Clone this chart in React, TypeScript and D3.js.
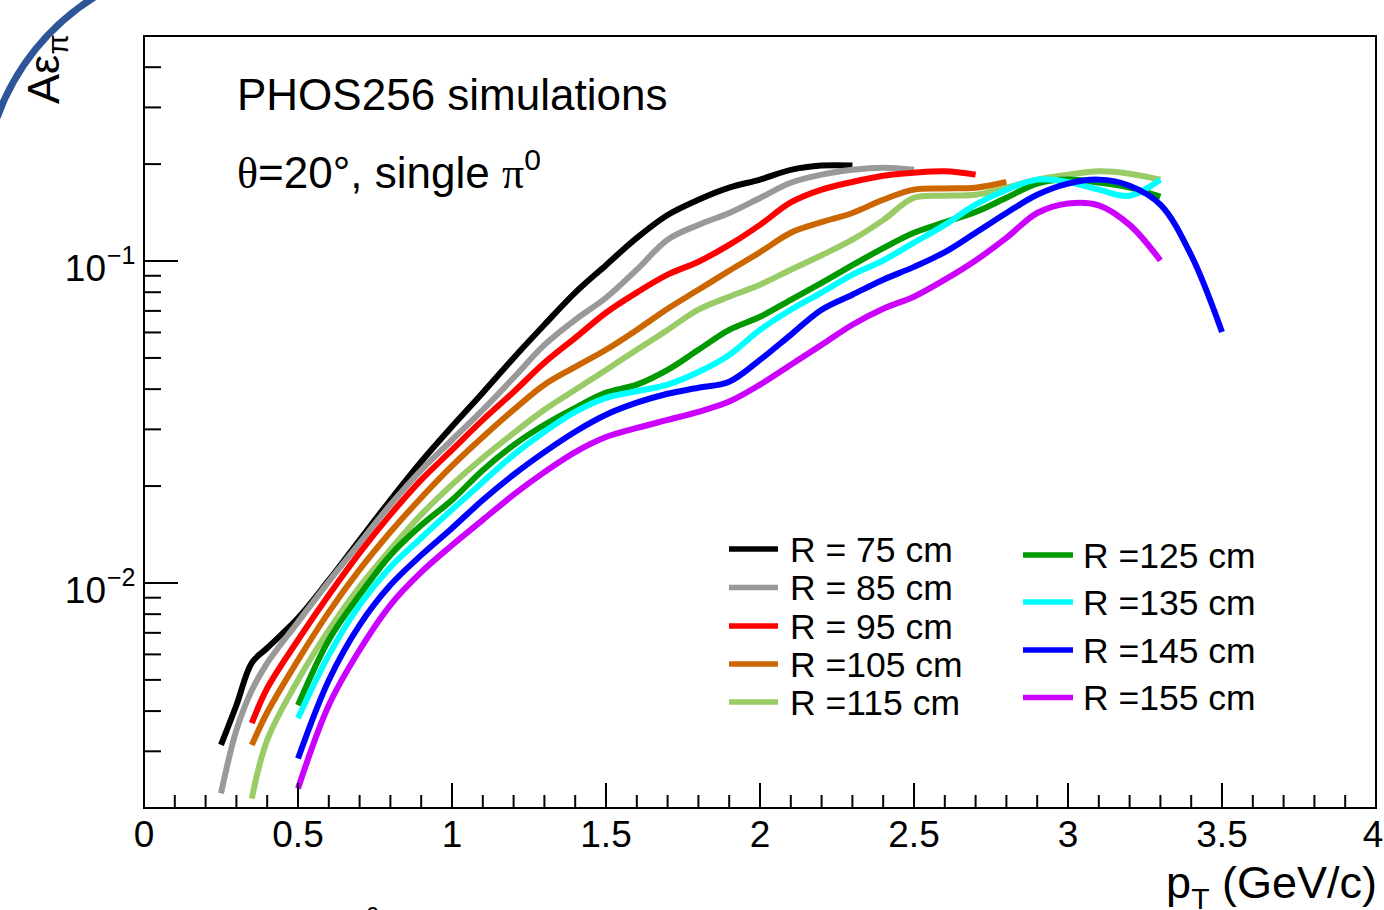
import React from "react";
import * as d3 from "d3";

const W = 1384;
const H = 910;

// ---- data (pT in GeV/c, acceptance x efficiency) ----
const xBlack = [0.25, 0.3, 0.35, 0.4, 0.5, 0.6, 0.7, 0.8, 0.9, 1.0, 1.1, 1.2, 1.3, 1.4, 1.5, 1.6, 1.7, 1.8, 1.9, 2.0, 2.1, 2.2, 2.3];
const yBlack = [0.00314, 0.00417, 0.00565, 0.00628, 0.00778, 0.0102, 0.0136, 0.0181, 0.0238, 0.0306, 0.039, 0.05, 0.0634, 0.0798, 0.0971, 0.118, 0.139, 0.155, 0.169, 0.179, 0.192, 0.198, 0.198];

const xGray = [0.25, 0.3, 0.35, 0.4, 0.5, 0.6, 0.7, 0.8, 0.9, 1.0, 1.1, 1.2, 1.3, 1.4, 1.5, 1.6, 1.7, 1.8, 1.9, 2.0, 2.1, 2.2, 2.3, 2.4, 2.5];
const yGray = [0.00222, 0.00349, 0.00464, 0.00564, 0.00756, 0.0101, 0.0133, 0.0175, 0.0224, 0.0278, 0.0345, 0.0434, 0.0549, 0.0657, 0.0769, 0.094, 0.1165, 0.1295, 0.141, 0.157, 0.175, 0.1855, 0.192, 0.195, 0.192];

const xRed = [0.35, 0.4, 0.5, 0.6, 0.7, 0.8, 0.9, 1.0, 1.1, 1.2, 1.3, 1.4, 1.5, 1.6, 1.7, 1.8, 1.9, 2.0, 2.1, 2.2, 2.3, 2.4, 2.5, 2.6, 2.7];
const yRed = [0.00367, 0.00471, 0.00665, 0.00917, 0.0124, 0.0163, 0.0209, 0.0259, 0.0321, 0.0392, 0.0483, 0.0577, 0.0691, 0.0798, 0.0907, 0.0995, 0.1122, 0.1295, 0.152, 0.1666, 0.176, 0.184, 0.188, 0.19, 0.1855];

const xOrange = [0.35, 0.4, 0.5, 0.6, 0.7, 0.8, 0.9, 1.0, 1.1, 1.2, 1.3, 1.4, 1.5, 1.6, 1.7, 1.8, 1.9, 2.0, 2.1, 2.2, 2.3, 2.4, 2.5, 2.6, 2.7, 2.8];
const yOrange = [0.00314, 0.00396, 0.00576, 0.00812, 0.011, 0.0144, 0.0184, 0.0231, 0.0284, 0.0345, 0.0413, 0.0469, 0.053, 0.0611, 0.0711, 0.0814, 0.0933, 0.1065, 0.1224, 0.132, 0.141, 0.155, 0.1666, 0.168, 0.169, 0.176];

const xLightGreen = [0.35, 0.4, 0.5, 0.6, 0.7, 0.8, 0.9, 1.0, 1.1, 1.2, 1.3, 1.4, 1.5, 1.6, 1.7, 1.8, 1.9, 2.0, 2.1, 2.2, 2.3, 2.4, 2.5, 2.6, 2.7, 2.8, 2.9, 3.0, 3.1, 3.2, 3.3];
const yLightGreen = [0.00214, 0.00325, 0.00499, 0.00714, 0.00972, 0.0127, 0.0163, 0.0202, 0.0245, 0.0292, 0.0345, 0.0398, 0.0459, 0.053, 0.0611, 0.0706, 0.0775, 0.0844, 0.094, 0.1042, 0.1165, 0.134, 0.1572, 0.1595, 0.1607, 0.169, 0.179, 0.1855, 0.19, 0.1868, 0.179];

const xGreen = [0.5, 0.6, 0.7, 0.8, 0.9, 1.0, 1.1, 1.2, 1.3, 1.4, 1.5, 1.6, 1.7, 1.8, 1.9, 2.0, 2.1, 2.2, 2.3, 2.4, 2.5, 2.6, 2.7, 2.8, 2.9, 3.0, 3.1, 3.2, 3.3];
const yGreen = [0.00417, 0.00665, 0.00917, 0.0122, 0.0151, 0.0181, 0.0224, 0.0268, 0.031, 0.035, 0.039, 0.0413, 0.0459, 0.053, 0.0611, 0.0671, 0.0758, 0.0856, 0.0971, 0.1097, 0.1224, 0.132, 0.142, 0.1572, 0.174, 0.179, 0.1752, 0.169, 0.1584];

const xCyan = [0.5, 0.6, 0.7, 0.8, 0.9, 1.0, 1.1, 1.2, 1.3, 1.4, 1.5, 1.6, 1.7, 1.8, 1.9, 2.0, 2.1, 2.2, 2.3, 2.4, 2.5, 2.6, 2.7, 2.8, 2.9, 3.0, 3.1, 3.2, 3.3];
const yCyan = [0.0038, 0.00597, 0.00854, 0.0112, 0.0138, 0.0169, 0.0206, 0.025, 0.0295, 0.034, 0.0376, 0.0394, 0.0413, 0.0452, 0.0511, 0.0611, 0.0706, 0.0798, 0.0907, 0.1004, 0.114, 0.1295, 0.1497, 0.1666, 0.179, 0.176, 0.1666, 0.1595, 0.179];

const xBlue = [0.5, 0.6, 0.7, 0.8, 0.9, 1.0, 1.1, 1.2, 1.3, 1.4, 1.5, 1.6, 1.7, 1.8, 1.9, 2.0, 2.1, 2.2, 2.3, 2.4, 2.5, 2.6, 2.7, 2.8, 2.9, 3.0, 3.1, 3.2, 3.3, 3.4, 3.5];
const yBlue = [0.00285, 0.00499, 0.0074, 0.00985, 0.0122, 0.0148, 0.0181, 0.0217, 0.0255, 0.0295, 0.0333, 0.0363, 0.0387, 0.0404, 0.0422, 0.0493, 0.059, 0.0706, 0.0786, 0.0875, 0.0959, 0.1065, 0.1224, 0.141, 0.1607, 0.174, 0.179, 0.1714, 0.1497, 0.1042, 0.0602];

const xMagenta = [0.5, 0.6, 0.7, 0.8, 0.9, 1.0, 1.1, 1.2, 1.3, 1.4, 1.5, 1.6, 1.7, 1.8, 1.9, 2.0, 2.1, 2.2, 2.3, 2.4, 2.5, 2.6, 2.7, 2.8, 2.9, 3.0, 3.1, 3.2, 3.3];
const yMagenta = [0.0023, 0.00417, 0.00619, 0.00854, 0.0108, 0.0131, 0.0157, 0.0188, 0.0221, 0.0255, 0.0284, 0.0303, 0.0321, 0.034, 0.0366, 0.0413, 0.0476, 0.0549, 0.0634, 0.0711, 0.0775, 0.0875, 0.1004, 0.118, 0.141, 0.151, 0.149, 0.1295, 0.1004];

const seriesLabels = ["R = 75 cm", "R = 85 cm", "R = 95 cm", "R =105 cm", "R =115 cm", "R =125 cm", "R =135 cm", "R =145 cm", "R =155 cm"];
const seriesColors = ["#000000", "#999999", "#ff0000", "#cc6600", "#99cc66", "#009900", "#00ffff", "#0000ff", "#cc00ff"];
const seriesX = [xBlack, xGray, xRed, xOrange, xLightGreen, xGreen, xCyan, xBlue, xMagenta];
const seriesY = [yBlack, yGray, yRed, yOrange, yLightGreen, yGreen, yCyan, yBlue, yMagenta];

const xTickLabels = ["0", "0.5", "1", "1.5", "2", "2.5", "3", "3.5", "4"];
const xMajorTicks = [0, 0.5, 1, 1.5, 2, 2.5, 3, 3.5, 4];
const yMajorTicks = [0.01, 0.1];
const yMajorExps = ["\u22122", "\u22121"];

// ---- layout ----
const L = 144, R = 1376, T = 36, B = 808;
const FONT = "'Liberation Sans', Arial, Helvetica, sans-serif";
const SERIF = "'Liberation Serif', 'Times New Roman', serif";

export default function App() {
  const x = d3.scaleLinear().domain([0, 4]).range([L, R]);
  const y = d3.scaleLog().domain([0.002, 0.5]).range([B, T]);

  const line = d3
    .line<[number, number]>()
    .x((d) => x(d[0]))
    .y((d) => y(d[1]))
    .curve(d3.curveCatmullRom.alpha(0.5));

  const minorX = x.ticks(40).filter((v) => v > 0 && v < 4);
  const minorY = y.ticks().filter((v) => v > 0.002 && v < 0.5);

  const leftLegend = [0, 1, 2, 3, 4];
  const rightLegend = [5, 6, 7, 8];
  const leftY = [549, 587.5, 626, 664, 702];
  const rightY = [555, 602, 650, 697.5];

  return (
    <svg
      width={W}
      height={H}
      viewBox={`0 0 ${W} ${H}`}
      style={{ position: "absolute", left: 0, top: 0, background: "#fff", overflow: "hidden" }}
      fontFamily={FONT}
    >
      <rect x={0} y={0} width={W} height={H} fill="#fff" />
      <defs>
        <clipPath id="plotclip">
          <rect x={L} y={T} width={R - L} height={B - T} />
        </clipPath>
      </defs>

      {/* decorative slide arc */}
      <path d="M -3 117.7 A 236.7 236.7 0 0 1 94.5 -3" fill="none" stroke="#2e5597" strokeWidth={7} />

      {/* curves */}
      <g clipPath="url(#plotclip)">
        {seriesX.map((xs, i) => (
          <path
            key={i}
            d={line(xs.map((v, j) => [v, seriesY[i][j]] as [number, number])) || ""}
            fill="none"
            stroke={seriesColors[i]}
            strokeWidth={6}
            strokeLinejoin="round"
          />
        ))}
      </g>

      {/* frame */}
      <rect x={L} y={T} width={R - L} height={B - T} fill="none" stroke="#000" strokeWidth={2} />

      {/* x ticks */}
      {minorX.map((v) => (
        <line key={"mx" + v} x1={x(v)} x2={x(v)} y1={B} y2={B - 13} stroke="#000" strokeWidth={2} />
      ))}
      {xMajorTicks.filter((v) => v > 0 && v < 4).map((v) => (
        <line key={"Mx" + v} x1={x(v)} x2={x(v)} y1={B} y2={B - 25} stroke="#000" strokeWidth={2} />
      ))}
      {xMajorTicks.map((v, i) => (
        <text key={"lx" + v} x={v === 4 ? x(v) - 3 : x(v)} y={847} fontSize={37} textAnchor="middle" fill="#000">
          {xTickLabels[i]}
        </text>
      ))}

      {/* y ticks */}
      {minorY.map((v) => (
        <line key={"my" + v} x1={L} x2={L + 17} y1={y(v)} y2={y(v)} stroke="#000" strokeWidth={2} />
      ))}
      {yMajorTicks.map((v) => (
        <line key={"My" + v} x1={L} x2={L + 34} y1={y(v)} y2={y(v)} stroke="#000" strokeWidth={2} />
      ))}
      {yMajorTicks.map((v, i) => (
        <g key={"ly" + v}>
          <text x={106} y={y(v) + 20} fontSize={37} textAnchor="end" fill="#000">
            10
          </text>
          <text x={107} y={y(v) + 3} fontSize={25} textAnchor="start" fill="#000">
            {yMajorExps[i]}
          </text>
        </g>
      ))}

      {/* axis titles */}
      <text x={1377} y={898} fontSize={45} textAnchor="end" fill="#000">
        p<tspan fontSize={30} dy={11}>T</tspan>
        <tspan dy={-11}> (GeV/c)</tspan>
      </text>
      <text transform="translate(59,34) rotate(-90)" fontSize={45} textAnchor="end" fill="#000">
        A<tspan fontSize={43}>ε</tspan>
        <tspan fontSize={30} dy={9}>π</tspan>
      </text>

      {/* annotations */}
      <text x={237} y={110} fontSize={44} fill="#000">
        PHOS256 simulations
      </text>
      <text x={237} y={188} fontSize={44} fill="#000">
        <tspan fontFamily={SERIF}>θ</tspan>=20°, single <tspan fontFamily={SERIF}>π</tspan>
        <tspan fontSize={30} dy={-18}>0</tspan>
      </text>

      {/* legend */}
      {leftLegend.map((idx, k) => (
        <g key={"lg" + idx}>
          <line x1={729} x2={778} y1={leftY[k]} y2={leftY[k]} stroke={seriesColors[idx]} strokeWidth={5.5} />
          <text x={790} y={leftY[k] + 12.5} fontSize={35.5} fill="#000">
            {seriesLabels[idx]}
          </text>
        </g>
      ))}
      {rightLegend.map((idx, k) => (
        <g key={"lg" + idx}>
          <line x1={1023} x2={1073} y1={rightY[k]} y2={rightY[k]} stroke={seriesColors[idx]} strokeWidth={5.5} />
          <text x={1083} y={rightY[k] + 12.5} fontSize={35.5} fill="#000">
            {seriesLabels[idx]}
          </text>
        </g>
      ))}

      {/* cut-off caption fragment at the bottom edge */}
      <text x={366} y={924} fontSize={24} fill="#000">
        0
      </text>
    </svg>
  );
}
